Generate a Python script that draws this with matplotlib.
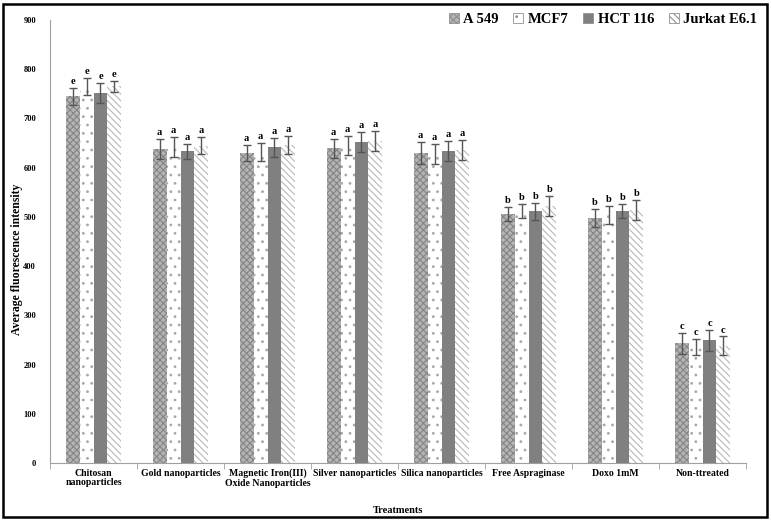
import numpy as np
import matplotlib.pyplot as plt
from matplotlib.patches import Rectangle, Patch

plt.rcParams["font.family"] = ["Liberation Serif", "DejaVu Serif"]
plt.rcParams["font.weight"] = "bold"
plt.rcParams["hatch.linewidth"] = 0.8

categories = [
    "Chitosan\nnanoparticles",
    "Gold nanoparticles",
    "Magnetic Iron(III)\nOxide Nanoparticles",
    "Silver nanoparticles",
    "Silica nanoparticles",
    "Free Aspraginase",
    "Doxo 1mM",
    "Non-ttreated",
]
series_names = ["A 549", "MCF7", "HCT 116", "Jurkat E6.1"]

a549 = [745, 638, 630, 639, 630, 506, 498, 243]
mcf7 = [765, 642, 632, 645, 628, 512, 504, 236]
hct116 = [752, 633, 641, 652, 634, 511, 512, 249]
jurkat = [765, 645, 646, 654, 636, 522, 514, 238]

a549_err = [17, 20, 16, 20, 22, 15, 18, 22]
mcf7_err = [18, 21, 19, 20, 21, 15, 18, 16]
hct116_err = [20, 16, 20, 20, 21, 18, 15, 21]
jurkat_err = [12, 18, 19, 20, 21, 20, 20, 19]

letters = ["e", "a", "a", "a", "a", "b", "b", "c"]

values = [a549, mcf7, hct116, jurkat]
errors = [a549_err, mcf7_err, hct116_err, jurkat_err]

styles = [
    dict(facecolor="#b4b4b4", edgecolor="#858585", hatch="xxxxx"),
    dict(facecolor="white", edgecolor="#a8a8a8", hatch=".."),
    dict(facecolor="#808080", edgecolor="#808080", hatch=None),
    dict(facecolor="white", edgecolor="#b8b8b8", hatch="\\\\\\\\\\"),
]

fig = plt.figure(figsize=(7.71, 5.21), dpi=100)
ax = fig.add_axes([50 / 771, 1 - 463 / 521, 696 / 771, 443 / 521])

x = np.arange(len(categories))
w = 0.16
for i, (vals, errs, st) in enumerate(zip(values, errors, styles)):
    pos = x + (i - 1.5) * w
    ax.bar(pos, vals, width=w, linewidth=0, **st)
    ax.errorbar(pos, vals, yerr=errs, fmt="none", ecolor="#555555",
                elinewidth=1, capsize=3, capthick=1)
    for p, v, e, l in zip(pos, vals, errs, letters):
        ax.text(p, v + e + 4, l, ha="center", va="bottom", fontsize=7.5,
                fontweight="bold")

ax.set_xlim(-0.5, len(categories) - 0.5)
ax.set_ylim(0, 900)
ax.set_yticks(range(0, 901, 100))
ax.tick_params(axis="y", length=0, labelsize=6, pad=10)
ax.set_xticks(x)
ax.set_xticklabels(categories, fontsize=7, fontweight="bold",
                   linespacing=1.1)
ax.tick_params(axis="x", length=0, pad=4)
ax.set_xticks(np.arange(-0.5, len(categories)), minor=True)
ax.tick_params(axis="x", which="minor", length=4, color="#a0a0a0")
for s in ["top", "right"]:
    ax.spines[s].set_visible(False)
for s in ["left", "bottom"]:
    ax.spines[s].set_color("#a0a0a0")

ax.set_ylabel("Average fluorescence intensity", fontsize=8.5,
              fontweight="bold")
ax.yaxis.set_label_coords(-0.039, 0.46)
ax.set_xlabel("Treatments", fontsize=7.5, fontweight="bold")
ax.xaxis.set_label_coords(0.5, -0.096)

handles = [Patch(facecolor=st["facecolor"], edgecolor="#909090",
                 hatch=st["hatch"], linewidth=0.6) for st in styles]
leg = ax.legend(handles, series_names, loc="upper right",
                bbox_to_anchor=(1.035, 1.045), ncol=4, frameon=False,
                prop={"size": 10.5, "weight": "bold"}, handlelength=0.7,
                handleheight=0.7, columnspacing=1.0, handletextpad=0.3)

fig.patches.append(Rectangle((3 / 771, 4 / 521), 764 / 771, 513 / 521,
                             transform=fig.transFigure, fill=False,
                             edgecolor="black", linewidth=1.8))

fig.savefig("out.png", dpi=100)
